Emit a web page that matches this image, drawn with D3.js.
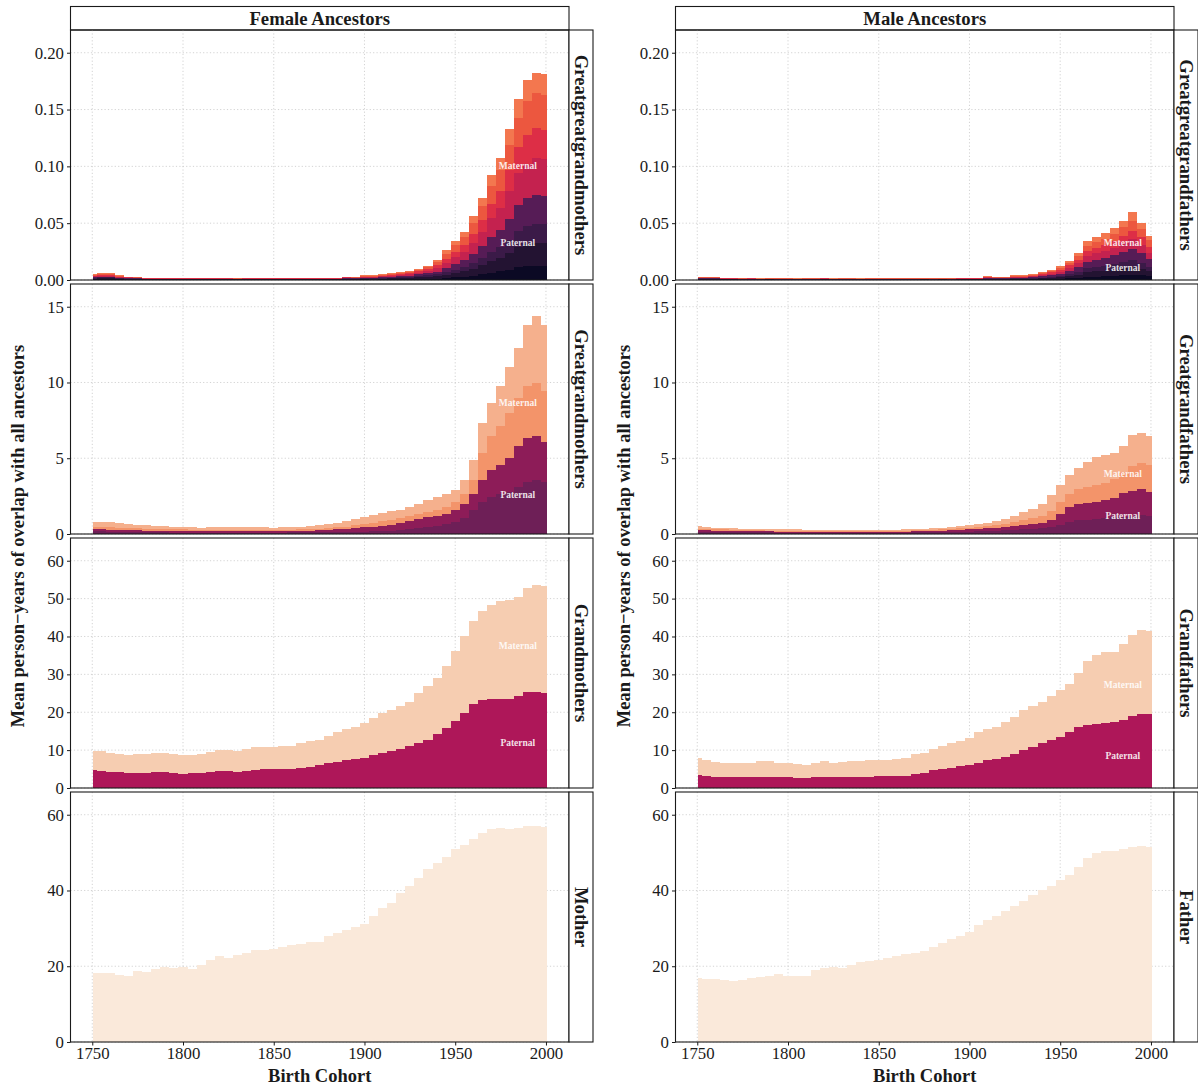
<!DOCTYPE html>
<html>
<head>
<meta charset="utf-8">
<script src="https://cdn.jsdelivr.net/npm/d3@7"></script>
<style>
body { margin: 0; background: #fff; }
text { font-family: "Liberation Serif", "Times New Roman", serif; }
</style>
</head>
<body>
<div id="chart"></div>
<script>
// birth cohorts, one reading every 5 years
var years = [1750,1755,1760,1765,1770,1775,1780,1785,1790,1795,1800,1805,1810,1815,1820,1825,1830,1835,1840,1845,1850,1855,1860,1865,1870,1875,1880,1885,1890,1895,1900,1905,1910,1915,1920,1925,1930,1935,1940,1945,1950,1955,1960,1965,1970,1975,1980,1985,1990,1995,2000];
var xTicks = [1750,1800,1850,1900,1950,2000];

var femaleRows = ["Greatgreatgrandmothers","Greatgrandmothers","Grandmothers","Mother"];
var maleRows = ["Greatgreatgrandfathers","Greatgrandfathers","Grandfathers","Father"];

// greatgreatgrandmothers, 8 layers, paternal side first
var femaleGgg = [
	[.0006,.0007,.0008,.0005,.0004,.0004,.0003,.0002,.0003,.0002,.0002,.0003,.0002,.0002,.0003,.0002,.0002,.0003,.0002,.0002,.0003,.0002,.0002,.0003,.0002,.0002,.0003,.0002,.0004,.0003,.0005,.0004,.0006,.0007,.0008,.0009,.0011,.0013,.0013,.0018,.0024,.003,.0039,.005,.0064,.0075,.0092,.0112,.0123,.0127,.0127],
	[.0007,.0008,.0007,.0005,.0004,.0003,.0003,.0003,.0002,.0003,.0003,.0002,.0003,.0003,.0002,.0003,.0003,.0002,.0003,.0003,.0002,.0003,.0003,.0002,.0003,.0003,.0002,.0003,.0004,.0004,.0005,.0005,.0006,.0008,.0009,.001,.0013,.0016,.002,.0029,.0037,.0046,.0062,.0079,.0101,.0118,.0145,.0176,.0194,.02,.0199],
	[.0006,.0008,.0008,.0005,.0004,.0004,.0002,.0003,.0002,.0002,.0002,.0002,.0002,.0003,.0002,.0002,.0002,.0002,.0003,.0002,.0002,.0002,.0003,.0002,.0002,.0003,.0002,.0002,.0003,.0004,.0005,.0005,.0006,.0007,.0009,.001,.0012,.0016,.0016,.0023,.0031,.0038,.005,.0065,.0083,.0096,.0119,.0144,.0158,.0164,.0163],
	[.0006,.0007,.0007,.0005,.0004,.0004,.0003,.0002,.0003,.0003,.0002,.0003,.0002,.0002,.0003,.0002,.0002,.0003,.0002,.0002,.0003,.0002,.0002,.0003,.0002,.0002,.0003,.0003,.0004,.0004,.0005,.0005,.0007,.0008,.0009,.001,.0013,.0017,.0025,.0036,.0048,.0059,.0078,.0101,.0129,.015,.0185,.0224,.0246,.0255,.0253],
	[.0007,.0007,.0008,.0005,.0003,.0004,.0002,.0003,.0002,.0002,.0003,.0002,.0002,.0003,.0002,.0003,.0002,.0002,.0003,.0002,.0002,.0003,.0002,.0002,.0003,.0002,.0002,.0002,.0004,.0003,.0005,.0005,.0006,.0008,.0009,.001,.0013,.0017,.0032,.0047,.0061,.0076,.0101,.013,.0166,.0193,.0238,.0288,.0297,.0328,.0326],
	[.0006,.0008,.0007,.0005,.0004,.0003,.0003,.0002,.0003,.0003,.0002,.0003,.0003,.0002,.0002,.0003,.0002,.0003,.0002,.0003,.0002,.0002,.0003,.0003,.0002,.0003,.0002,.0003,.0004,.0004,.0005,.0005,.0006,.0008,.0009,.001,.0013,.0016,.0025,.0036,.0048,.0059,.0078,.0101,.0129,.015,.0185,.0224,.0256,.0265,.0253],
	[.0006,.0008,.0008,.0005,.0004,.0004,.0002,.0003,.0002,.0002,.0003,.0002,.0003,.0002,.0003,.0002,.0003,.0002,.0002,.0003,.0003,.0003,.0002,.0002,.0003,.0002,.0003,.0002,.0004,.0004,.0005,.0005,.0007,.0007,.0009,.001,.0012,.0016,.0031,.0044,.0058,.0071,.0095,.0122,.0156,.0182,.0224,.0262,.0299,.0309,.0308],
	[.0006,.0007,.0007,.0005,.0003,.0004,.0002,.0002,.0003,.0003,.0003,.0003,.0003,.0003,.0003,.0003,.0004,.0003,.0003,.0003,.0003,.0003,.0003,.0003,.0003,.0003,.0003,.0003,.0003,.0004,.0005,.0006,.0006,.0007,.0008,.001,.0013,.0013,.0018,.0027,.0033,.0043,.0057,.0072,.0092,.0107,.0142,.016,.0186,.0172,.0181]
];
var femaleGg = [
	[.18,.17,.15,.14,.13,.12,.11,.1,.1,.09,.09,.09,.09,.09,.09,.09,.09,.09,.09,.09,.09,.09,.1,.1,.1,.11,.11,.12,.13,.14,.16,.18,.2,.23,.27,.33,.4,.48,.56,.66,.78,1.07,1.56,2.11,2.44,2.67,2.78,3.11,3.44,3.56,3.44],
	[.15,.14,.14,.14,.14,.13,.11,.12,.12,.12,.11,.1,.09,.09,.09,.09,.09,.09,.09,.09,.09,.1,.1,.11,.12,.13,.16,.18,.2,.24,.28,.31,.36,.37,.44,.51,.58,.63,.64,.67,.82,.93,1.11,1.45,1.78,1.89,2.22,2.67,2.89,2.88,2.6],
	[.16,.16,.15,.14,.13,.13,.14,.13,.11,.11,.11,.1,.09,.09,.09,.09,.09,.09,.09,.09,.09,.09,.09,.09,.11,.12,.13,.14,.16,.19,.23,.24,.28,.33,.32,.33,.35,.37,.4,.45,.5,.67,.89,1.77,2.22,2.55,3.0,3.22,3.45,3.52,3.4],
	[.27,.31,.34,.29,.27,.24,.22,.21,.2,.17,.18,.15,.15,.17,.17,.17,.17,.2,.17,.17,.15,.16,.15,.19,.2,.24,.24,.27,.35,.41,.44,.51,.54,.56,.57,.61,.67,.79,.84,.89,.79,.89,1.33,2.0,2.23,2.67,3.0,3.3,4.02,4.44,4.36]
];
var femaleG = [
	[4.7,4.5,4.2,4.1,4.0,4.0,4.0,4.1,4.1,4.0,3.8,3.9,4.0,4.2,4.5,4.4,4.3,4.5,4.7,4.9,5.0,5.0,5.1,5.3,5.6,6.0,6.5,6.9,7.3,7.7,8.0,8.6,9.3,9.7,10.2,11.0,11.8,12.8,14.2,15.8,17.8,19.7,22.2,23.3,23.5,23.5,23.6,24.2,25.3,25.4,25.0],
	[5.2,5.2,5.1,4.8,4.6,4.9,5.1,5.2,5.2,5.1,4.9,4.7,4.9,5.4,5.5,5.6,5.5,5.9,6.0,5.8,5.9,6.1,6.1,6.5,6.9,6.7,7.2,8.0,8.2,8.5,9.1,9.8,10.6,10.9,11.5,11.8,13.2,14.2,14.8,16.3,18.3,20.4,21.9,23.4,24.7,25.9,26.0,26.3,27.6,28.1,28.2]
];
var femaleMother = [
	[18.3,18.1,18.1,17.7,17.5,18.8,18.6,19.3,19.9,19.6,19.9,19.2,20.2,21.7,22.6,22.3,23.0,23.6,24.3,24.3,24.6,25.0,25.6,26.0,26.5,26.4,27.9,28.9,29.7,30.4,31.2,33.2,35.4,36.7,39.4,41.2,43.4,45.6,47.3,48.8,50.9,52.0,53.5,55.3,56.3,56.5,56.2,56.6,57.1,56.9,56.8]
];

var maleGgg = [
	[.0004,.0003,.0004,.0003,.0002,.0002,.0002,.0001,.0002,.0002,.0003,.0002,.0002,.0001,.0002,.0002,.0002,.0003,.0002,.0002,.0001,.0002,.0002,.0002,.0002,.0003,.0002,.0002,.0002,.0003,.0002,.0003,.0004,.0004,.0003,.0005,.0005,.0006,.0006,.0007,.001,.0014,.0019,.0027,.003,.0033,.0037,.0042,.0046,.004,.0031],
	[.0004,.0004,.0003,.0002,.0003,.0002,.0002,.0002,.0003,.0002,.0001,.0002,.0002,.0002,.0003,.0002,.0002,.0001,.0002,.0002,.0003,.0002,.0002,.0002,.0001,.0002,.0002,.0003,.0002,.0002,.0003,.0002,.0004,.0003,.0004,.0005,.0005,.0006,.0008,.0011,.0014,.002,.0029,.0041,.0046,.0049,.0055,.0062,.007,.006,.0047],
	[.0003,.0004,.0004,.0002,.0002,.0003,.0003,.0002,.0002,.0001,.0002,.0002,.0003,.0002,.0002,.0002,.0001,.0002,.0003,.0002,.0002,.0002,.0001,.0002,.0003,.0002,.0002,.0002,.0002,.0002,.0002,.0003,.0003,.0004,.0004,.0005,.0005,.0006,.0007,.0009,.0012,.0017,.0024,.0034,.0038,.0041,.0046,.0052,.0058,.005,.0039],
	[.0004,.0004,.0004,.0003,.0002,.0002,.0002,.0003,.0002,.0002,.0002,.0001,.0002,.0003,.0002,.0002,.0002,.0002,.0001,.0003,.0002,.0002,.0002,.0002,.0002,.0001,.0003,.0002,.0002,.0003,.0002,.0002,.0004,.0004,.0003,.0005,.0005,.0007,.0012,.0015,.002,.0029,.0041,.0058,.0065,.007,.0078,.0088,.0099,.0085,.0066],
	[.0003,.0004,.0003,.0002,.0003,.0002,.0002,.0002,.0001,.0003,.0002,.0002,.0002,.0003,.0002,.0001,.0002,.0002,.0002,.0002,.0002,.0003,.0002,.0001,.0002,.0002,.0002,.0002,.0003,.0002,.0003,.0002,.0004,.0003,.0004,.0005,.0005,.0006,.001,.0014,.0018,.0026,.0036,.0051,.0057,.0062,.0069,.0078,.0087,.0075,.0059],
	[.0004,.0003,.0004,.0003,.0002,.0002,.0003,.0002,.0002,.0002,.0001,.0002,.0002,.0002,.0003,.0002,.0002,.0002,.0001,.0002,.0002,.0002,.0003,.0002,.0002,.0002,.0001,.0002,.0002,.0003,.0002,.0002,.0004,.0004,.0004,.0005,.0005,.0006,.0009,.0012,.0016,.0022,.0031,.0044,.0049,.0053,.006,.0068,.0075,.0065,.0051],
	[.0004,.0004,.0003,.0002,.0002,.0003,.0002,.0001,.0002,.0002,.0003,.0002,.0002,.0002,.0001,.0002,.0003,.0002,.0002,.0002,.0002,.0001,.0002,.0003,.0002,.0002,.0002,.0002,.0001,.0002,.0002,.0003,.0004,.0004,.0004,.0005,.0005,.0006,.001,.0013,.0017,.0024,.0034,.0048,.0053,.0057,.0064,.0073,.0081,.007,.0055],
	[.0004,.0004,.0004,.0002,.0003,.0002,.0002,.0002,.0002,.0002,.0002,.0003,.0002,.0002,.0002,.0003,.0002,.0002,.0002,.0003,.0002,.0002,.0002,.0002,.0003,.0002,.0002,.0002,.0002,.0002,.0002,.0002,.0004,.0004,.0004,.0005,.0005,.0006,.0008,.0009,.0013,.0018,.0026,.0037,.0042,.0045,.0051,.0057,.0084,.0055,.0043]
];
var maleGg = [
	[.16,.15,.14,.13,.12,.11,.1,.1,.1,.09,.09,.09,.09,.09,.09,.09,.09,.09,.09,.08,.08,.08,.09,.09,.1,.1,.11,.12,.13,.15,.16,.18,.2,.22,.25,.28,.31,.33,.38,.45,.6,.8,.9,.95,1.02,1.07,1.1,1.15,1.22,1.27,1.22],
	[.1,.1,.09,.09,.08,.08,.07,.07,.07,.07,.06,.06,.06,.06,.06,.06,.06,.06,.06,.06,.06,.06,.06,.07,.07,.08,.09,.1,.11,.12,.14,.16,.18,.2,.24,.27,.3,.32,.36,.5,.75,.95,1.05,1.1,1.12,1.15,1.3,1.55,1.6,1.72,1.56],
	[.1,.1,.09,.08,.08,.07,.07,.07,.06,.06,.06,.06,.06,.06,.06,.06,.06,.06,.06,.06,.06,.06,.06,.06,.07,.07,.08,.09,.1,.11,.12,.14,.16,.18,.2,.25,.3,.38,.45,.6,.75,.9,1.0,1.05,1.1,1.15,1.2,1.4,1.7,1.68,1.78],
	[.14,.13,.1,.1,.1,.1,.1,.09,.09,.09,.09,.09,.08,.08,.08,.07,.07,.07,.07,.07,.07,.07,.07,.08,.08,.1,.1,.11,.13,.14,.16,.18,.21,.25,.31,.4,.51,.64,.76,1.05,1.12,1.25,1.4,1.68,1.81,1.83,1.75,1.7,2.04,2.0,1.93]
];
var maleG = [
	[3.5,3.2,2.9,2.8,2.8,2.9,2.9,2.9,2.9,2.8,2.8,2.7,2.7,2.8,2.9,2.9,2.9,3.0,3.0,3.0,3.1,3.1,3.2,3.3,3.6,4.0,4.7,5.1,5.4,5.8,6.0,6.6,7.3,7.7,8.2,9.1,10.0,10.7,11.8,12.7,13.5,14.9,16.0,16.6,16.9,17.1,17.3,18.0,19.0,19.5,19.6],
	[4.3,4.3,4.0,3.8,3.7,3.7,3.8,4.1,4.3,3.9,3.8,3.6,3.5,3.8,4.1,3.7,4.0,4.0,4.2,4.3,4.2,4.3,4.4,4.6,5.3,5.3,5.6,6.0,6.4,6.7,7.1,8.3,8.4,8.5,9.3,9.7,10.6,11.0,11.0,11.5,12.3,12.6,14.4,16.9,18.3,18.7,18.5,19.9,21.5,22.2,21.8]
];
var maleFather = [
	[16.8,16.6,16.6,16.5,16.1,16.4,16.8,17.1,17.4,18.0,17.5,17.3,17.5,19.0,19.6,19.9,19.5,20.4,21.2,21.4,21.7,22.1,22.6,23.2,23.5,23.9,25.2,26.1,27.3,27.9,29.0,31.0,32.3,33.2,34.7,35.8,37.3,38.9,40.0,41.2,42.9,44.1,46.2,48.7,49.9,50.4,50.3,50.9,51.5,51.7,51.5]
];

var yTicks = [[0,0.05,0.1,0.15,0.2],[0,5,10,15],[0,10,20,30,40,50,60],[0,20,40,60]];
var yMax = [0.22, 16.5, 66, 66];

// where the Maternal / Paternal words sit (year, value)
var labelYear = 1984.5;
var femaleMaternalAt = [0.1, 8.65, 37.4];
var femalePaternalAt = [0.033, 2.6, 11.9];
var maleMaternalAt = [0.033, 3.95, 27.3];
var malePaternalAt = [0.011, 1.16, 8.5];

// fills per row, bottom layer first
var rowColors = [
	["#0b0924","#231332","#3b1a48","#561c56","#c4224f","#dd2e46","#ec573f","#f3774f"],
	["#6e1f57","#8d1c58","#f3946a","#f5b08d"],
	["#ae1759","#f6cdb1"],
	["#fae9da"]
];

var width = 1198;
var height = 1088;
var panelW = 498.5;
var panelH = 250;
var stripW = 24;
var rowStep = 254;
var panelTop = 30;
var ink = "#1a1a1a";

var svg = d3.select("#chart").append("svg")
	.attr("width", width)
	.attr("height", height);

var plots = [
	{x0: 70.5, title: "Female Ancestors", rows: femaleRows, data: [femaleGgg, femaleGg, femaleG, femaleMother], mat: femaleMaternalAt, pat: femalePaternalAt, yTitleX: 18},
	{x0: 675.5, title: "Male Ancestors", rows: maleRows, data: [maleGgg, maleGg, maleG, maleFather], mat: maleMaternalAt, pat: malePaternalAt, yTitleX: 624}
];

plots.forEach(function(p){
	var x = d3.scaleLinear().domain([1738, 2012.7]).range([p.x0, p.x0 + panelW]);

	//top strip
	svg.append("rect")
		.attr("x", p.x0).attr("y", 6.5)
		.attr("width", panelW).attr("height", panelTop - 6.5)
		.attr("fill", "white").attr("stroke", ink).attr("stroke-width", 1.1);
	svg.append("text")
		.attr("x", p.x0 + panelW / 2).attr("y", 18.5)
		.attr("text-anchor", "middle").attr("dominant-baseline", "central")
		.attr("font-size", "18.7px").attr("font-weight", "bold").attr("fill", ink)
		.text(p.title);

	p.data.forEach(function(layers, r){
		var top = panelTop + r * rowStep;
		var y = d3.scaleLinear().domain([0, yMax[r]]).range([top + panelH, top]);
		var g = svg.append("g");

		//grid
		g.selectAll(".vgrid").data(xTicks).enter().append("line")
			.attr("x1", function(d){ return x(d); }).attr("x2", function(d){ return x(d); })
			.attr("y1", top).attr("y2", top + panelH)
			.attr("stroke", "#c8c8c8").attr("stroke-width", 0.8).attr("stroke-dasharray", "1.2,2.2");
		g.selectAll(".hgrid").data(yTicks[r]).enter().append("line")
			.attr("x1", p.x0).attr("x2", p.x0 + panelW)
			.attr("y1", function(d){ return y(d); }).attr("y2", function(d){ return y(d); })
			.attr("stroke", "#c8c8c8").attr("stroke-width", 0.8).attr("stroke-dasharray", "1.2,2.2");

		//stack the layers
		var keys = layers.map(function(l, i){ return "s" + i; });
		var table = years.map(function(yr, i){
			var row = {year: yr};
			layers.forEach(function(l, k){ row["s" + k] = l[i] || 0; });
			return row;
		});
		var stacked = d3.stack().keys(keys)(table);

		stacked.forEach(function(series, k){
			g.append("g")
				.attr("fill", rowColors[r][k])
				.attr("shape-rendering", "crispEdges")
				.selectAll("rect").data(series).enter().append("rect")
				.attr("x", function(d){ return x(Math.max(d.data.year - 2.5, 1750.3)); })
				.attr("width", function(d){ return x(Math.min(d.data.year + 2.5, 2000.6)) - x(Math.max(d.data.year - 2.5, 1750.3)); })
				.attr("y", function(d){ return y(d[1]); })
				.attr("height", function(d){ return Math.max(0, y(d[0]) - y(d[1])); });
		});

		//maternal / paternal words
		if (layers.length > 1) {
			[["Maternal", p.mat[r]], ["Paternal", p.pat[r]]].forEach(function(l){
				g.append("text")
					.attr("x", x(labelYear)).attr("y", y(l[1]))
					.attr("text-anchor", "middle").attr("dominant-baseline", "central")
					.attr("font-size", "9.5px").attr("font-weight", "bold")
					.attr("fill", "white").attr("fill-opacity", 0.88)
					.text(l[0]);
			});
		}

		//panel border
		g.append("rect")
			.attr("x", p.x0).attr("y", top)
			.attr("width", panelW).attr("height", panelH)
			.attr("fill", "none").attr("stroke", ink).attr("stroke-width", 1.1);

		//right strip
		g.append("rect")
			.attr("x", p.x0 + panelW).attr("y", top)
			.attr("width", stripW).attr("height", panelH)
			.attr("fill", "white").attr("stroke", ink).attr("stroke-width", 1.1);
		g.append("text")
			.attr("transform", "translate(" + (p.x0 + panelW + stripW / 2) + "," + (top + panelH / 2) + ") rotate(90)")
			.attr("text-anchor", "middle").attr("dominant-baseline", "central")
			.attr("font-size", "18.7px").attr("font-weight", "bold").attr("fill", ink)
			.text(p.rows[r]);

		//y axis
		var yAxis = d3.axisLeft(y).tickValues(yTicks[r]).tickSize(3.5).tickPadding(3)
			.tickFormat(r == 0 ? d3.format(".2f") : d3.format("d"));
		var ya = g.append("g").attr("transform", "translate(" + p.x0 + ",0)").call(yAxis);
		ya.select(".domain").remove();
		ya.selectAll("text").attr("font-family", "Liberation Serif").attr("font-size", "16.8px").attr("fill", ink);
		ya.selectAll("line").attr("stroke", ink);

		//x axis only under the last row
		if (r == p.data.length - 1) {
			var xAxis = d3.axisBottom(x).tickValues(xTicks).tickSize(3.5).tickPadding(2).tickFormat(d3.format("d"));
			var xa = g.append("g").attr("transform", "translate(0," + (top + panelH) + ")").call(xAxis);
			xa.select(".domain").remove();
			xa.selectAll("text").attr("font-family", "Liberation Serif").attr("font-size", "16.8px").attr("fill", ink);
			xa.selectAll("line").attr("stroke", ink);
		}
	});

	//axis titles
	svg.append("text")
		.attr("x", p.x0 + panelW / 2).attr("y", 1082)
		.attr("text-anchor", "middle")
		.attr("font-size", "18.5px").attr("font-weight", "bold").attr("fill", ink)
		.text("Birth Cohort");
	svg.append("text")
		.attr("transform", "translate(" + p.yTitleX + "," + (panelTop + (3 * rowStep + panelH) / 2) + ") rotate(-90)")
		.attr("text-anchor", "middle").attr("dominant-baseline", "central")
		.attr("font-size", "18.5px").attr("font-weight", "bold").attr("fill", ink)
		.text("Mean person\u2212years of overlap with all ancestors");
});
</script>
</body>
</html>
